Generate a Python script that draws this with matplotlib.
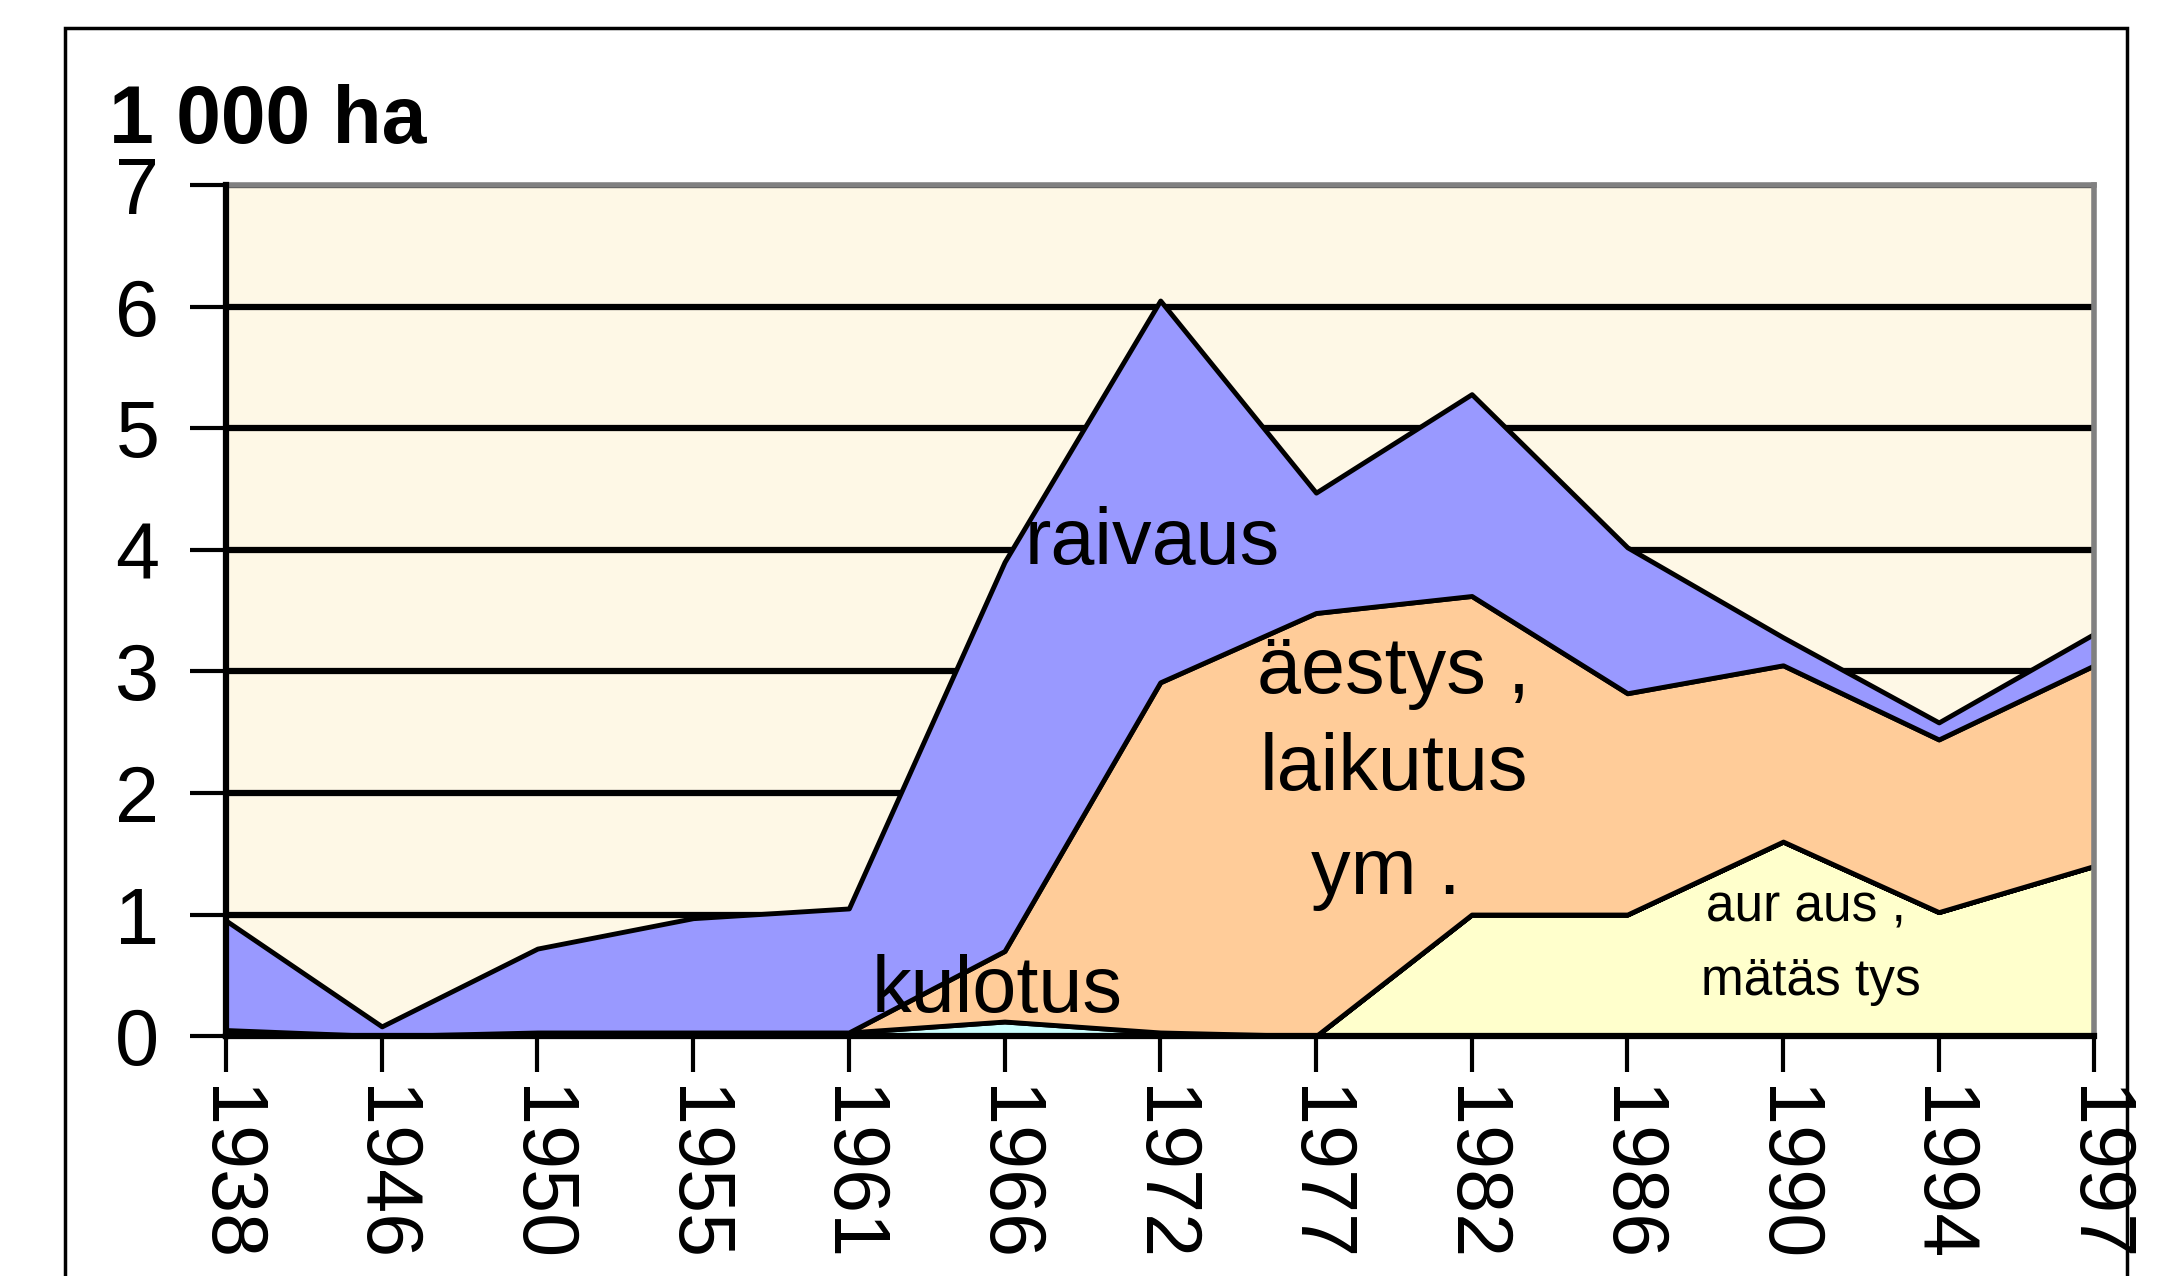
import numpy as np
import matplotlib.pyplot as plt
from matplotlib.patches import Rectangle

plt.rcParams["font.family"] = ["Liberation Sans", "DejaVu Sans"]

# vuodet ja menetelmät, 1 000 ha
years = ["1938", "1946", "1950", "1955", "1961", "1966", "1972",
         "1977", "1982", "1986", "1990", "1994", "1997"]
auraus = [0, 0, 0, 0, 0, 0, 0, 0, 1.0, 1.0, 1.6, 1.02, 1.4]
kulotus = [0.05, 0, 0.03, 0.03, 0.03, 0.12, 0.03, 0, 0, 0, 0, 0, 0]
aestys = [0, 0, 0, 0, 0, 0.58, 2.88, 3.48, 2.62, 1.82, 1.45, 1.42, 1.65]
raivaus = [0.9, 0.08, 0.69, 0.94, 1.02, 3.2, 3.14, 0.99, 1.66, 1.2, 0.23, 0.14, 0.26]

layers = [auraus, kulotus, aestys, raivaus]
colors = ["#FFFFCC", "#CCFFFF", "#FFCC99", "#9999FF"]

fig = plt.figure(figsize=(21.84, 12.76), dpi=100)
ax = fig.add_axes([0.1035, 0.188, 0.8555, 0.667])
ax.set_facecolor("#FEF8E6")

x = np.arange(len(years))
base = np.zeros(len(years))
for vals, col in zip(layers, colors):
    top = base + np.array(vals)
    ax.fill_between(x, base, top, facecolor=col, edgecolor="black",
                    linewidth=3.5, zorder=2)
    base = top

ax.set_xlim(0, len(years) - 1)
ax.set_ylim(0, 7)
ax.set_yticks(range(8))
ax.set_xticks(x)
ax.set_xticklabels(years, rotation=-90, fontsize=57)
ax.tick_params(axis="y", labelsize=57, length=26, width=3, pad=22)
ax.tick_params(axis="x", length=26, width=3, pad=10)

ax.set_axisbelow(True)
ax.yaxis.grid(True, color="black", linewidth=4.5, zorder=0)

for side in ["left", "bottom"]:
    ax.spines[side].set_linewidth(4.5)
    ax.spines[side].set_zorder(5)
for side in ["top", "right"]:
    ax.spines[side].set_color("#808080")
    ax.spines[side].set_linewidth(4)

# sarjojen nimet kuvion sisällä
ax.text(5.13, 4.05, "raivaus", fontsize=57, ha="left", va="center", zorder=6)
ax.text(7.5, 2.99, "äestys ,", fontsize=57, ha="center", va="center", zorder=6)
ax.text(7.5, 2.19, "laikutus", fontsize=57, ha="center", va="center", zorder=6)
ax.text(7.45, 1.34, "ym .", fontsize=57, ha="center", va="center", zorder=6)
ax.text(4.95, 0.37, "kulotus", fontsize=57, ha="center", va="center", zorder=6)
ax.text(10.15, 1.05, "aur aus ,", fontsize=37, ha="center", va="center", zorder=6)
ax.text(10.18, 0.45, "mätäs tys", fontsize=37, ha="center", va="center", zorder=6)

fig.text(0.05, 0.888, "1 000 ha", fontsize=58, fontweight="bold",
         ha="left", va="baseline")

# kehys koko kuvan ympärillä
fig.patches.append(Rectangle((0.0298, -0.02), 0.9442, 0.998, transform=fig.transFigure,
                             fill=False, edgecolor="black", linewidth=2.5))

fig.savefig("out.png", dpi=100)
